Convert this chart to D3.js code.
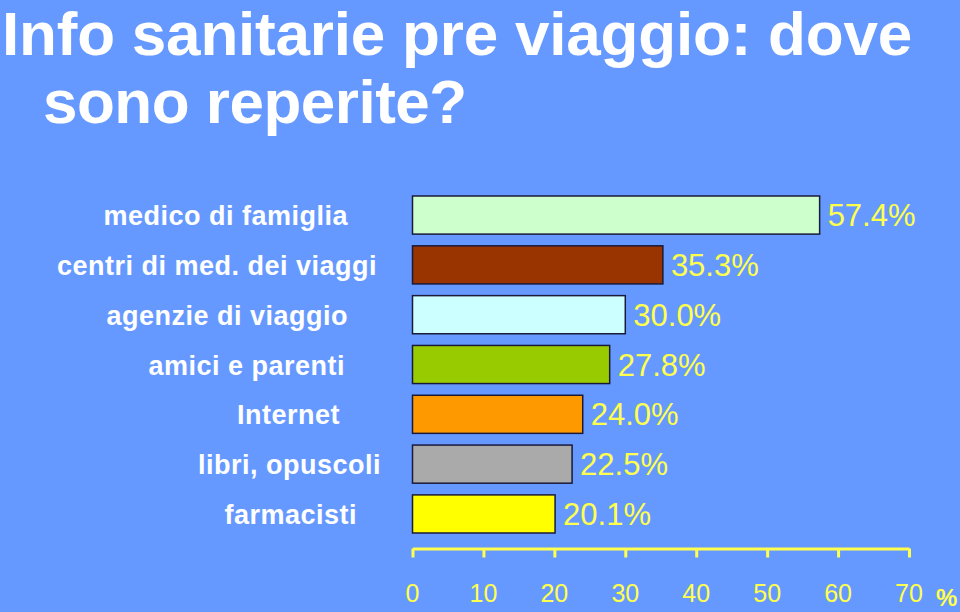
<!DOCTYPE html>
<html>
<head>
<meta charset="utf-8">
<script src="https://cdn.jsdelivr.net/npm/d3@7/dist/d3.min.js"></script>
<style>
  html, body { margin: 0; padding: 0; background: #6699ff; }
  svg { display: block; }
</style>
</head>
<body>
<svg id="chart" width="960" height="612"></svg>
<script>
// ---- data ----
const categories = ["medico di famiglia", "centri di med. dei viaggi", "agenzie di viaggio",
                    "amici e parenti", "Internet", "libri, opuscoli", "farmacisti"];
const values = [57.4, 35.3, 30.0, 27.8, 24.0, 22.5, 20.1];
const barColors = ["#ccffcc", "#993300", "#ccffff", "#99cc00", "#ff9900", "#aaaaaa", "#ffff00"];
const tickValues = [0, 10, 20, 30, 40, 50, 60, 70];
const titleLines = ["Info sanitarie pre viaggio: dove", "sono reperite?"];
const unitLabel = "%";

// ---- layout (not data) ----
const labelRight = [348, 377, 348, 345, 340, 381, 357];
const yellow = "#ffff4d";

const svg = d3.select("#chart");
svg.append("rect").attr("width", 960).attr("height", 612).attr("fill", "#6699ff");

// title
svg.append("text").attr("x", 2).attr("y", 55)
  .attr("font-family", "Liberation Sans, Arial, sans-serif").attr("font-weight", "bold")
  .attr("font-size", 62).attr("letter-spacing", "-0.2px").attr("fill", "#ffffff")
  .text(titleLines[0]);
svg.append("text").attr("x", 43).attr("y", 123)
  .attr("font-family", "Liberation Sans, Arial, sans-serif").attr("font-weight", "bold")
  .attr("font-size", 62).attr("letter-spacing", "-0.5px").attr("fill", "#ffffff")
  .text(titleLines[1]);

const x = d3.scaleLinear().domain([0, 70]).range([412.5, 909]);
const y = d3.scaleBand().domain(categories).range([196, 533]).paddingInner(0.235).paddingOuter(0);

// bars
svg.append("g").selectAll("rect").data(values).join("rect")
  .attr("x", x(0))
  .attr("y", (d, i) => y(categories[i]))
  .attr("width", d => x(d) - x(0))
  .attr("height", y.bandwidth())
  .attr("fill", (d, i) => barColors[i])
  .attr("stroke", "#1a1a3a")
  .attr("stroke-width", 1.5);

// value labels
svg.append("g").selectAll("text").data(values).join("text")
  .attr("x", d => x(d) + 8)
  .attr("y", (d, i) => y(categories[i]) + y.bandwidth() / 2 + 11)
  .attr("font-family", "Liberation Sans, Arial, sans-serif")
  .attr("font-size", 31)
  .attr("fill", yellow)
  .text(d => d.toFixed(1) + "%");

// category labels
svg.append("g").selectAll("text").data(categories).join("text")
  .attr("x", (d, i) => labelRight[i])
  .attr("y", d => y(d) + y.bandwidth() / 2 + 10)
  .attr("text-anchor", "end")
  .attr("font-family", "Liberation Sans, Arial, sans-serif")
  .attr("font-weight", "bold")
  .attr("font-size", 27)
  .attr("letter-spacing", "0.5px")
  .attr("fill", "#ffffff")
  .text(d => d);

// axis
const axis = d3.axisBottom(x).tickValues(tickValues).tickSize(9).tickSizeOuter(0).tickFormat("");
const gAxis = svg.append("g").attr("transform", "translate(0,548.5)").call(axis);
gAxis.select(".domain").attr("stroke", yellow).attr("stroke-width", 3);
gAxis.selectAll(".tick line").attr("stroke", yellow).attr("stroke-width", 3);

svg.append("g").selectAll("text").data(tickValues).join("text")
  .attr("x", d => x(d))
  .attr("y", 602)
  .attr("text-anchor", "middle")
  .attr("font-family", "Liberation Sans, Arial, sans-serif")
  .attr("font-size", 25)
  .attr("fill", yellow)
  .text(d => d);

svg.append("text").attr("x", 936).attr("y", 606)
  .attr("font-family", "Liberation Sans, Arial, sans-serif").attr("font-weight", "bold")
  .attr("font-size", 24).attr("fill", yellow).text(unitLabel);
</script>
</body>
</html>
